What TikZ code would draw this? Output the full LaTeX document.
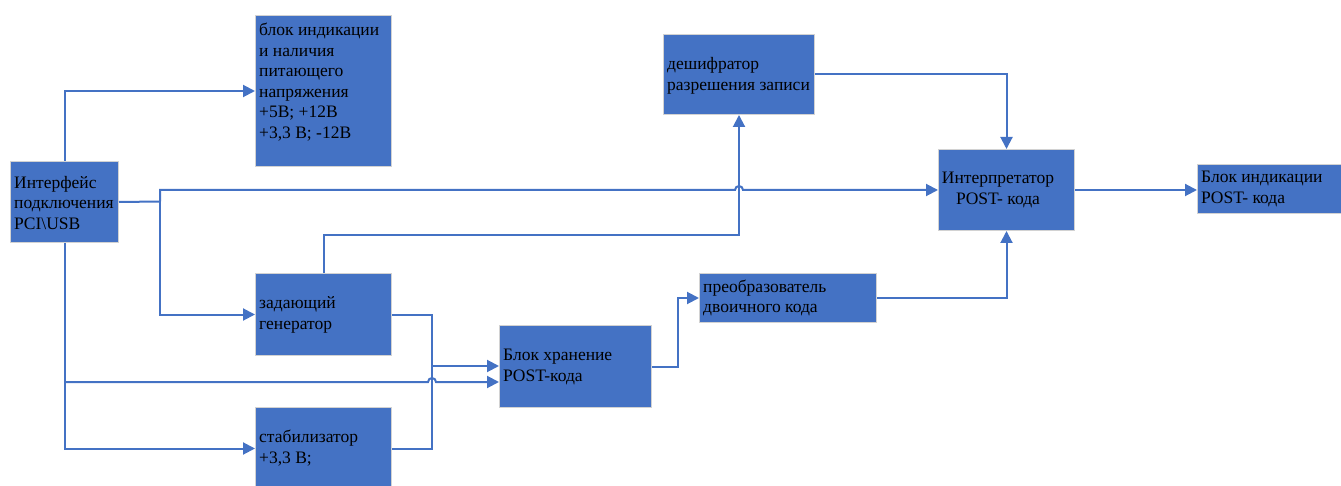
\documentclass[tikz,border=0pt]{standalone}
\usepackage{fontspec}
\setmainfont{Liberation Serif}
\newfontfamily\tnr{Liberation Serif}
\usetikzlibrary{arrows.meta,calc}
\definecolor{blu}{HTML}{4472C4}
\begin{document}
\begin{tikzpicture}[x=1pt,y=-1pt,
 box/.style={draw=gray!35,line width=1pt,fill=blu,anchor=north west,inner sep=0pt},
 lbl/.style={font=\tnr\fontsize{17.5}{20.5}\selectfont,align=left,anchor=west,inner sep=0pt,text=black},
 conn/.style={draw=blu,line width=2pt,-{Triangle[length=12pt,width=12pt]}},
 wire/.style={draw=blu,line width=2pt}]
\useasboundingbox (0,0) rectangle (1341,486);
% boxes
\node[box,minimum width=108pt,minimum height=81pt] (iface) at (10,161) {};
\node[box,minimum width=136pt,minimum height=151pt] (ind) at (255,15) {};
\node[box,minimum width=151pt,minimum height=80pt] (dec) at (663,34) {};
\node[box,minimum width=136pt,minimum height=81pt] (interp) at (938,149) {};
\node[box,minimum width=146pt,minimum height=49pt] (bpost) at (1197,164) {};
\node[box,minimum width=136pt,minimum height=82pt] (gen) at (255,273) {};
\node[box,minimum width=136pt,minimum height=82pt] (stab) at (255,407) {};
\node[box,minimum width=152pt,minimum height=82pt] (store) at (499,325) {};
\node[box,minimum width=177pt,minimum height=49pt] (conv) at (699,273) {};
% labels
\node[lbl] (iface-t) at (14,203) {Интерфейс\\подключения\\PCI\textbackslash USB};
\node[lbl] (ind-t) at (259,82) {блок индикации\\и наличия\\питающего\\напряжения\\+5В; +12В\\+3,3 В; -12В};
\node[lbl] (dec-t) at (667,76) {дешифратор\\разрешения записи};
\node[lbl,align=center,anchor=center] (interp-t) at (998,190) {Интерпретатор\\POST- кода};
\node[lbl] (bpost-t) at (1201,189) {Блок индикации\\POST- кода};
\node[lbl] (gen-t) at (259,315) {задающий\\генератор};
\node[lbl] (stab-t) at (259,448) {стабилизатор\\+3,3 В;};
\node[lbl] (store-t) at (503,367) {Блок хранение\\POST-кода};
\node[lbl] (conv-t) at (703,298) {преобразователь\\двоичного кода};
% junctions
\coordinate (j1) at (160,201.5);
\coordinate (j2) at (64,382);
\coordinate (j3) at (432,366);
% connectors
\draw[conn] (iface.north) |- (ind.west);
\draw[wire] (iface.east) -- (j1);
\draw[conn] (j1) -- (j1 |- interp.west) -- ($(dec.south |- interp.west)+(-4,0)$) arc (180:360:4) -- (interp.west);
\draw[conn] (j1) |- (gen.west);
\draw[conn] (iface.south) |- (stab.west);
\draw[conn] (j2) -- (428,382) arc (180:360:4) -- (j2 -| store.west);
\draw[conn] (gen.north) -- ++(0,-38) -| (dec.south);
\draw[wire] (gen.east) -| (j3);
\draw[wire] (stab.east) -| (j3);
\draw[conn] (j3) -- (j3 -| store.west);
\draw[conn] (store.east) -- ++(26,0) |- (conv.west);
\draw[conn] (conv.east) -| (interp.south);
\draw[conn] (dec.east) -| (interp.north);
\draw[conn] (interp.east) -- (interp.east -| bpost.west);
\end{tikzpicture}
\end{document}
